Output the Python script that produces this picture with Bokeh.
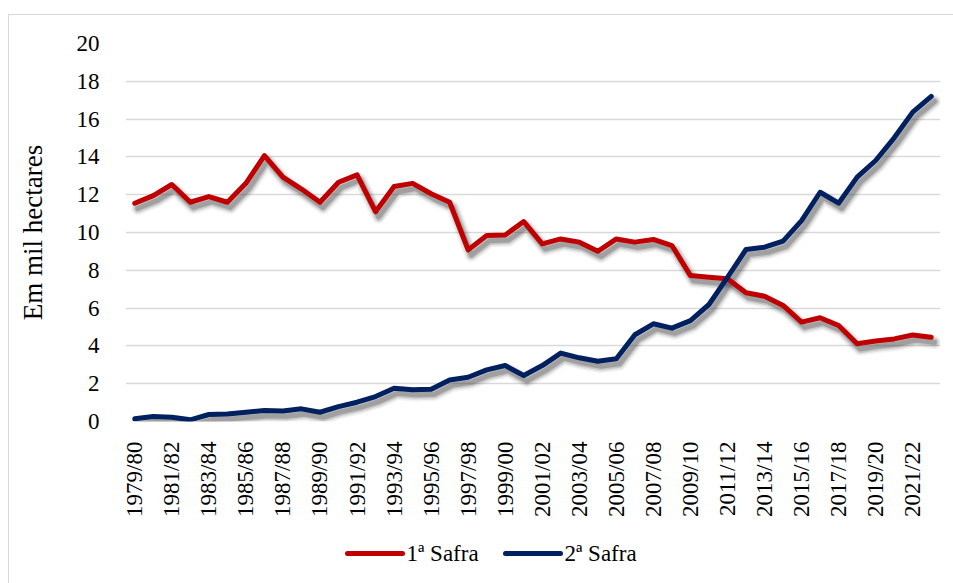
from bokeh.plotting import figure
from bokeh.layouts import column
from bokeh.models import ColumnDataSource, FixedTicker, Range1d
from bokeh.core.properties import value
from bokeh.transform import dodge
from bokeh.embed import file_html
from bokeh.resources import INLINE

seasons = [f"{y}/{str(y + 1)[-2:]}" for y in range(1979, 2023)]
safra1 = [11.55, 11.95, 12.54, 11.6, 11.9, 11.6, 12.6, 14.07, 12.93, 12.3,
          11.6, 12.66, 13.05, 11.1, 12.43, 12.6, 12.05, 11.6, 9.08, 9.84,
          9.87, 10.58, 9.4, 9.66, 9.49, 9.01, 9.66, 9.49, 9.63, 9.31,
          7.72, 7.63, 7.55, 6.81, 6.63, 6.14, 5.26, 5.49, 5.08, 4.11,
          4.26, 4.37, 4.58, 4.46]
safra2 = [0.14, 0.26, 0.23, 0.09, 0.37, 0.4, 0.49, 0.58, 0.55, 0.67,
          0.49, 0.79, 1.02, 1.32, 1.76, 1.68, 1.71, 2.2, 2.34, 2.73,
          2.96, 2.43, 2.96, 3.62, 3.37, 3.19, 3.32, 4.59, 5.17, 4.94,
          5.34, 6.19, 7.63, 9.1, 9.22, 9.54, 10.63, 12.13, 11.55, 12.93,
          13.81, 15.01, 16.37, 17.2]
y_ticks = list(range(0, 21, 2))
series_names = ["1ª Safra", "2ª Safra"]

FONT = "Liberation Serif"
RED = "#C00000"
BLUE = "#002060"
COLORS = [RED, BLUE]

idx = list(range(len(seasons)))
src = ColumnDataSource(dict(x=idx, s1=safra1, s2=safra2))

W = 944
p = figure(width=W, height=515, output_backend="svg", toolbar_location=None,
           x_range=Range1d(-0.5, len(seasons) - 0.5), y_range=Range1d(0, 20),
           min_border_left=116, min_border_right=13, min_border_top=28,
           min_border_bottom=109)
p.outline_line_color = None
p.background_fill_color = "white"
p.border_fill_color = "white"

# soft drop shadows under the lines
for col in ("s1", "s2"):
    for w, a in [(14, 0.06), (11, 0.10), (8, 0.18), (5, 0.28)]:
        p.line(x=dodge("x", 0.17), y=dodge(col, -0.27), source=src,
               line_width=w, line_color="#404040", line_alpha=a,
               line_join="round", line_cap="round")

p.line(x="x", y="s1", source=src, line_width=5, line_color=RED,
       line_join="round", line_cap="round")
p.line(x="x", y="s2", source=src, line_width=5, line_color=BLUE,
       line_join="round", line_cap="round")

# axes
p.xaxis.ticker = FixedTicker(ticks=idx[::2])
p.xaxis.major_label_overrides = {i: seasons[i] for i in idx}
p.xaxis.major_label_orientation = 1.5708
p.xaxis.major_label_text_font = FONT
p.xaxis.major_label_text_font_size = "23px"
p.xaxis.major_label_text_color = "black"
p.xaxis.major_label_standoff = 14
p.xaxis.axis_line_color = None
p.xaxis.major_tick_line_color = None
p.xaxis.minor_tick_line_color = None

p.yaxis.ticker = FixedTicker(ticks=y_ticks)
p.yaxis.major_label_text_font = FONT
p.yaxis.major_label_text_font_size = "23px"
p.yaxis.major_label_text_color = "black"
p.yaxis.major_label_standoff = 20
p.yaxis.axis_line_color = None
p.yaxis.major_tick_line_color = None
p.yaxis.minor_tick_line_color = None
p.yaxis.axis_label = "Em mil hectares"
p.yaxis.axis_label_text_font = FONT
p.yaxis.axis_label_text_font_size = "27px"
p.yaxis.axis_label_text_font_style = "normal"
p.yaxis.axis_label_text_color = "black"
p.yaxis.axis_label_standoff = 26

p.xgrid.grid_line_color = None
p.ygrid.grid_line_color = "#D9D9D9"
p.ygrid.grid_line_width = 1.5

# legend strip: a pixel-scaled figure whose frame is aligned with the
# main frame by the column
FW = W - 116 - 13
LH = 53
lg = figure(width=W, height=LH, output_backend="svg", toolbar_location=None,
            x_range=Range1d(0, FW), y_range=Range1d(0, LH),
            min_border_left=116, min_border_right=13, min_border_top=0,
            min_border_bottom=0)
lg.axis.visible = False
lg.grid.visible = False
lg.outline_line_color = None
lg.border_fill_color = "white"
lg.background_fill_color = "white"

SWATCH, GAP, ITEM_STEP, LEG_X0, LEG_Y = 55, 4, 158, 222, 30
sw_x0 = [LEG_X0 + i * ITEM_STEP for i in range(len(series_names))]
lg.segment(x0=sw_x0, y0=[LEG_Y] * 2, x1=[x + SWATCH for x in sw_x0],
           y1=[LEG_Y] * 2, line_color=COLORS, line_width=5, line_cap="round")
lg.text(x=[x + SWATCH + GAP for x in sw_x0], y=[LEG_Y] * 2,
        text=series_names, text_font=value(FONT), text_font_size="23px",
        text_color="black", text_baseline="middle", text_align="left")

layout = column(p, lg, spacing=0, margin=(14, 0, 0, 8),
                styles={"border-left": "1px solid #D9D9D9",
                        "border-top": "1px solid #D9D9D9"})

open("out.html", "w").write(file_html(layout, INLINE))
